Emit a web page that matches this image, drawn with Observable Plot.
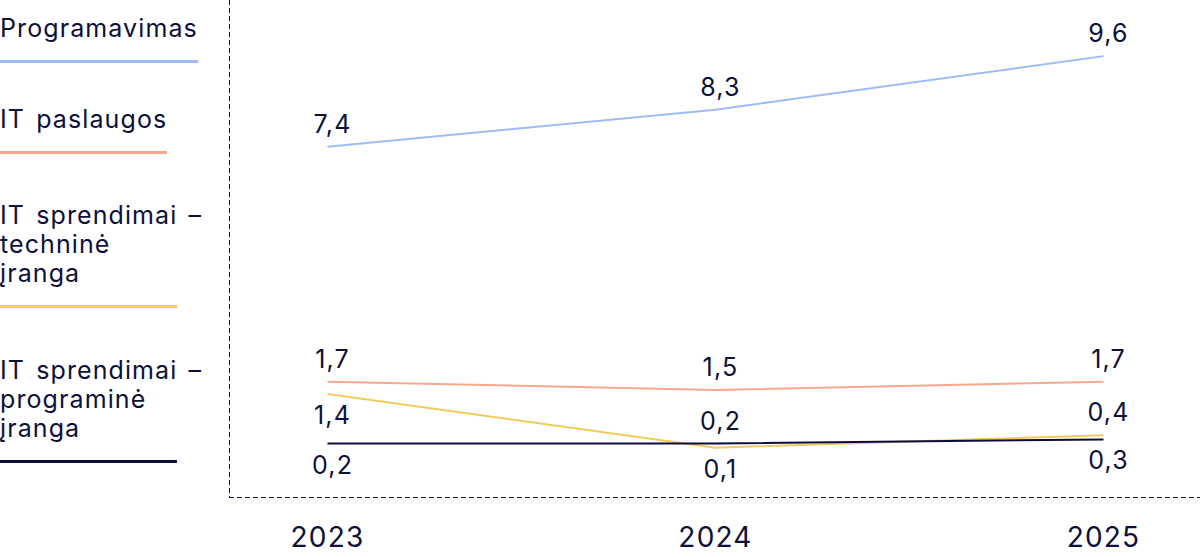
<!DOCTYPE html>
<html>
<head>
<meta charset="utf-8">
<script src="https://cdn.jsdelivr.net/npm/d3@7"></script>
<script src="https://cdn.jsdelivr.net/npm/@observablehq/plot@0.6"></script>
<style>
  html, body { margin: 0; padding: 0; background: #fff; }
  #wrap { position: relative; width: 1200px; height: 557px; font-family: Inter, "Noto Sans", sans-serif; color: #0d1038; }
  #chart { position: absolute; left: 0; top: 0; }
  #chart text { letter-spacing: 1.2px; }
  .item { position: absolute; left: 0; display: inline-block; font-size: 25px; line-height: 29px; white-space: nowrap; letter-spacing: 1.1px; word-spacing: 3px; }
  .item .dash { position: absolute; }
  .item .swatch { height: 3px; margin-top: 17px; }
</style>
</head>
<body>
<div id="wrap">
  <div id="chart"></div>
</div>
<script>
const years = ["2023", "2024", "2025"];
const seriesNames = [
  "Programavimas",
  "IT paslaugos",
  "IT sprendimai – techninė įranga",
  "IT sprendimai – programinė įranga"
];
const seriesColors = ["#9dbcf4", "#f8a88f", "#f2cb5c", "#0c0d3e"];
const programavimas = [7.4, 8.3, 9.6];
const itPaslaugos = [1.7, 1.5, 1.7];
const techninėĮranga = [1.4, 0.1, 0.4];
const programinėĮranga = [0.2, 0.2, 0.3];
// label placement relative to the line: true = above, false = below
const programavimasAbove = [true, true, true];
const itPaslaugosAbove = [true, true, true];
const techninėAbove = [false, false, true];
const programinėAbove = [false, true, false];

const valuesBySeries = [programavimas, itPaslaugos, techninėĮranga, programinėĮranga];
const aboveBySeries = [programavimasAbove, itPaslaugosAbove, techninėAbove, programinėAbove];

const data = [];
seriesNames.forEach((s, i) => {
  years.forEach((y, j) => {
    data.push({series: s, year: y, value: valuesBySeries[i][j], above: aboveBySeries[i][j]});
  });
});
const fmt = v => v.toFixed(1).replace(".", ",");
const ink = "#0d1038";

const chart = Plot.plot({
  width: 1200,
  height: 557,
  marginLeft: 229,
  marginRight: 0,
  marginTop: 0,
  marginBottom: 60,
  style: {fontFamily: "Inter, 'Noto Sans', sans-serif", color: ink, background: "#fff", overflow: "visible"},
  x: {type: "point", domain: years, padding: 0.25, axis: null, label: null},
  y: {domain: [-1.11, 10.95], axis: null},
  color: {domain: seriesNames, range: seriesColors},
  marks: [
    Plot.frame({anchor: "left", stroke: ink, strokeDasharray: "4,4", strokeWidth: 1}),
    Plot.frame({anchor: "bottom", stroke: ink, strokeDasharray: "4,4", strokeWidth: 1}),
    Plot.lineY(data, {x: "year", y: "value", z: "series", stroke: "series", strokeWidth: 2, strokeLinecap: "butt"}),
    Plot.text(data.filter(d => d.above), {x: "year", y: "value", text: d => fmt(d.value), dy: -22, dx: 5, fontSize: 25, fill: ink}),
    Plot.text(data.filter(d => !d.above), {x: "year", y: "value", text: d => fmt(d.value), dy: 22, dx: 5, fontSize: 25, fill: ink}),
    Plot.axisX({tickSize: 0, tickPadding: 30, fontSize: 28, fill: ink, label: null})
  ]
});
document.getElementById("chart").appendChild(chart);

// Legend (HTML, left side)
const legendItems = [
  {lines: [["Programavimas", ""]], top: 14},
  {lines: [["IT paslaugos", ""]], top: 105},
  {lines: [["IT sprendimai", "\u00a0–"], ["techninė", ""], ["įranga", ""]], top: 201},
  {lines: [["IT sprendimai", "\u00a0–"], ["programinė", ""], ["įranga", ""]], top: 356}
];
const wrap = document.getElementById("wrap");
legendItems.forEach((it, i) => {
  const div = document.createElement("div");
  div.className = "item";
  div.style.top = it.top + "px";
  it.lines.forEach(([t, extra]) => {
    const ln = document.createElement("div");
    ln.style.position = "relative";
    const span = document.createElement("span");
    span.textContent = t;
    ln.appendChild(span);
    if (extra) {
      const d = document.createElement("span");
      d.className = "dash";
      d.textContent = extra;
      ln.appendChild(d);
    }
    div.appendChild(ln);
  });
  const sw = document.createElement("div");
  sw.className = "swatch";
  sw.style.background = seriesColors[i];
  div.appendChild(sw);
  wrap.appendChild(div);
});
</script>
</body>
</html>
